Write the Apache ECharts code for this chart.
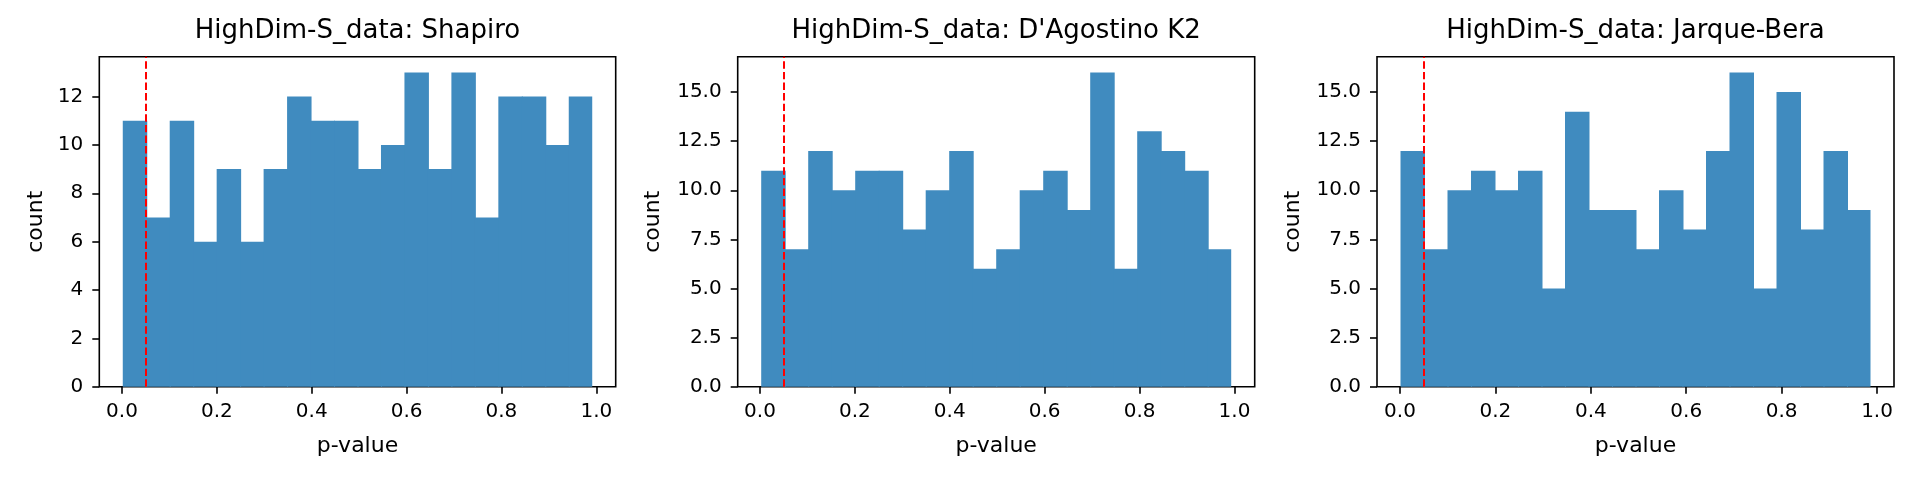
<!DOCTYPE html>
<html>
<head>
<meta charset="utf-8">
<script src="https://cdn.jsdelivr.net/npm/echarts@6/dist/echarts.min.js"></script>
<style>
  html, body { margin: 0; padding: 0; background: #fff; }
  #main { width: 1920px; height: 480px; }
</style>
</head>
<body>
<div id="main"></div>
<script>
// panel titles
var titles = ['HighDim-S_data: Shapiro', "HighDim-S_data: D'Agostino K2", 'HighDim-S_data: Jarque-Bera'];

// histogram counts (20 bins each)
var shapiroCounts   = [11, 7, 11, 6, 9, 6, 9, 12, 11, 11, 9, 10, 13, 9, 13, 7, 12, 12, 10, 12];
var dagostinoCounts = [11, 7, 12, 10, 11, 11, 8, 10, 12, 6, 7, 10, 11, 9, 16, 6, 13, 12, 11, 7];
var jarqueCounts    = [12, 7, 10, 11, 10, 11, 5, 14, 9, 9, 7, 10, 8, 12, 16, 5, 15, 8, 12, 9];

// first / last bin edge of each histogram (min and max p-value)
var binStart = [0.0017, 0.0026, 0.0010];
var binEnd   = [0.9914, 0.9931, 0.9863];

// threshold line
var alpha = 0.05;

// tick values
var xTicks = [0, 0.2, 0.4, 0.6, 0.8, 1.0];
var yTicksShapiro = [0, 2, 4, 6, 8, 10, 12];
var yTicksOther = [0, 2.5, 5, 7.5, 10, 12.5, 15];

var allCounts = [shapiroCounts, dagostinoCounts, jarqueCounts];
var yTickSets = [yTicksShapiro, yTicksOther, yTicksOther];
var yDecimals = [0, 1, 1];

// layout of the three axes boxes (px)
var gridLeft = [99.3, 737.7, 1377];
var gridWidth = [516.4, 517, 517];
var gridTop = 56.7;
var gridHeight = 330;
var yNameGap = [52, 73, 73];

var font = 'DejaVu Sans';
var barColor = '#408bbf';

function buildBins(counts, lo, hi) {
  var w = (hi - lo) / counts.length;
  return counts.map(function (c, i) {
    return [lo + i * w, lo + (i + 1) * w, c];
  });
}

var grids = [], xAxes = [], yAxes = [], series = [], graphics = [];

for (let k = 0; k < 3; k++) {
  var counts = allCounts[k];
  var lo = binStart[k], hi = binEnd[k];
  var margin = (hi - lo) * 0.05;
  var yMax = Math.max.apply(null, counts) * 1.05;
  let nBins = counts.length;

  grids.push({
    left: gridLeft[k], top: gridTop, width: gridWidth[k], height: gridHeight,
    show: true, borderColor: '#000', borderWidth: 1.6, backgroundColor: 'transparent'
  });

  xAxes.push({
    type: 'value', gridIndex: k,
    min: lo - margin, max: hi + margin,
    name: 'p-value', nameLocation: 'middle', nameGap: 49,
    nameTextStyle: { fontFamily: font, fontSize: 22, color: '#000' },
    axisLine: { show: false, onZero: false },
    splitLine: { show: false },
    axisTick: { show: true, length: 7, lineStyle: { color: '#000', width: 1.6 }, customValues: xTicks },
    axisLabel: {
      fontFamily: font, fontSize: 20, color: '#000', margin: 15,
      customValues: xTicks,
      formatter: function (v) { return v.toFixed(1); }
    }
  });

  let dec = yDecimals[k];
  yAxes.push({
    type: 'value', gridIndex: k,
    min: 0, max: yMax,
    name: 'count', nameLocation: 'middle', nameGap: yNameGap[k],
    nameTextStyle: { fontFamily: font, fontSize: 22, color: '#000' },
    axisLine: { show: false, onZero: false },
    splitLine: { show: false },
    axisTick: { show: true, length: 7, lineStyle: { color: '#000', width: 1.6 }, customValues: yTickSets[k] },
    axisLabel: {
      fontFamily: font, fontSize: 20, color: '#000', margin: 16,
      customValues: yTickSets[k],
      formatter: function (v) { return v.toFixed(dec); }
    }
  });

  series.push({
    type: 'custom', xAxisIndex: k, yAxisIndex: k,
    data: buildBins(counts, lo, hi),
    encode: { x: [0, 1], y: 2 },
    renderItem: function (params, api) {
      var p0 = api.coord([api.value(0), 0]);
      var p1 = api.coord([api.value(1), api.value(2)]);
      // small overlap so neighbouring bars leave no seam (not on the last bar)
      var extra = params.dataIndex < nBins - 1 ? 1 : 0;
      return {
        type: 'rect',
        shape: { x: p0[0], y: p1[1], width: p1[0] - p0[0] + extra, height: p0[1] - p1[1] },
        style: { fill: barColor }
      };
    },
    markLine: {
      silent: true, symbol: 'none', label: { show: false },
      lineStyle: { color: '#ff0000', width: 2, type: [7.4, 3.2] },
      data: [{ xAxis: alpha }]
    },
    z: 2
  });

  graphics.push({
    type: 'text',
    x: gridLeft[k] + gridWidth[k] / 2, y: 31.5,
    style: {
      text: titles[k], fontFamily: font, fontSize: 26, fill: '#000',
      textAlign: 'center', textVerticalAlign: 'middle'
    }
  });
}

var chart = echarts.init(document.getElementById('main'), null, { renderer: 'canvas' });
chart.setOption({
  animation: false,
  backgroundColor: '#fff',
  grid: grids,
  xAxis: xAxes,
  yAxis: yAxes,
  series: series,
  graphic: graphics
});
</script>
</body>
</html>
